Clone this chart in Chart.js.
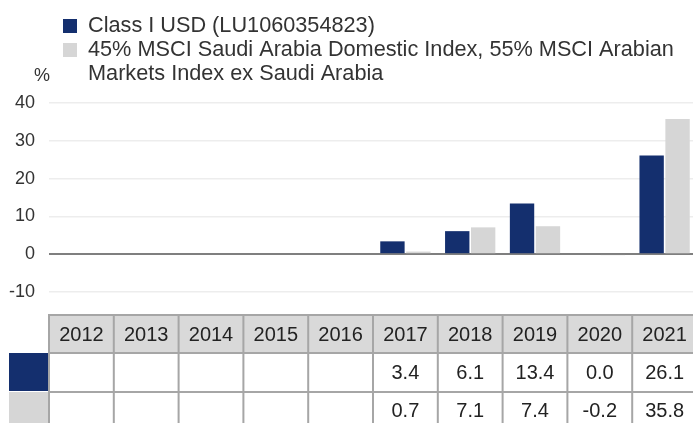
<!DOCTYPE html>
<html>
<head>
<meta charset="utf-8">
<title>Calendar year performance</title>
<script src="https://cdn.jsdelivr.net/npm/chart.js@4.4.0/dist/chart.umd.min.js"></script>
<style>
  html, body { margin: 0; padding: 0; background: #fff; }
  #wrap { width: 693px; height: 423px; overflow: hidden; }
</style>
</head>
<body>
<div id="wrap"><canvas id="perfChart" width="693" height="423"></canvas></div>
<script>
// calendar years and yearly returns (%)
const years = ['2012', '2013', '2014', '2015', '2016', '2017', '2018', '2019', '2020', '2021'];
const fundName = 'Class I USD (LU1060354823)';
const indexName = ['45% MSCI Saudi Arabia Domestic Index, 55% MSCI Arabian', 'Markets Index ex Saudi Arabia'];
const fundValues = [null, null, null, null, null, 3.4, 6.1, 13.4, 0.0, 26.1];
const indexValues = [null, null, null, null, null, 0.7, 7.1, 7.4, -0.2, 35.8];
const yMin = -10;
const yMax = 40;
const yStep = 10;

const fundColor = '#142f6e';
const indexColor = '#d6d6d6';
const fontName = '"Liberation Sans", Arial, sans-serif';

// the last year column runs a little past the right edge of the canvas
const overhang = 4;

const widenX = {
  id: 'widenX',
  afterLayout(chart) {
    const xs = chart.scales.x;
    xs.right = chart.width + overhang;
    xs.width = xs.right - xs.left;
    xs.configure();
    chart.chartArea.right = xs.right;
    chart.chartArea.width = xs.width;
  }
};

// legend, "%" label and the values table under the bars
const extras = {
  id: 'extras',
  afterDraw(chart) {
    const c = chart.ctx;
    const xs = chart.scales.x;
    c.save();

    // legend
    c.font = '21.7px ' + fontName;
    c.textBaseline = 'middle';
    c.textAlign = 'left';
    c.fillStyle = fundColor;
    c.fillRect(63, 19, 14, 14);
    c.fillStyle = indexColor;
    c.fillRect(63, 43, 14, 14);
    c.fillStyle = '#333';
    c.fillText(fundName, 88, 26);
    indexName.forEach((t, i) => c.fillText(t, 88, 50 + i * 24.5));

    // unit
    c.font = '18px ' + fontName;
    c.textAlign = 'center';
    c.fillText('%', 42, 76);

    // table
    const top = 315;
    const rows = [top, top + 38, top + 77, top + 116];
    const colW = (xs.right - xs.left) / years.length;
    const left = xs.left;
    const right = chart.width;

    c.fillStyle = '#d9d9d9';
    c.fillRect(left, rows[0], right - left, rows[1] - rows[0]);
    c.fillStyle = fundColor;
    c.fillRect(9, rows[1], left - 9, rows[2] - rows[1] - 1);
    c.fillStyle = indexColor;
    c.fillRect(9, rows[2], left - 9, rows[3] - rows[2]);

    c.strokeStyle = '#a6a6a6';
    c.lineWidth = 2;
    c.beginPath();
    for (let i = 0; i < 3; i++) {
      c.moveTo(left - 1, rows[i]);
      c.lineTo(right, rows[i]);
    }
    for (let i = 0; i < years.length; i++) {
      const x = left + i * colW;
      c.moveTo(x, rows[0]);
      c.lineTo(x, chart.height);
    }
    c.stroke();

    c.font = '20px ' + fontName;
    c.fillStyle = '#222';
    c.textAlign = 'center';
    c.textBaseline = 'middle';
    const fmt = v => (v === null ? '' : v.toFixed(1));
    years.forEach((y, i) => {
      const cx = left + (i + 0.5) * colW;
      c.fillText(y, cx, (rows[0] + rows[1]) / 2 + 1);
      c.fillText(fmt(fundValues[i]), cx, (rows[1] + rows[2]) / 2 + 1);
      c.fillText(fmt(indexValues[i]), cx, (rows[2] + rows[3]) / 2);
    });

    c.restore();
  }
};

new Chart(document.getElementById('perfChart'), {
  type: 'bar',
  data: {
    labels: years,
    datasets: [
      { label: fundName, data: fundValues, backgroundColor: fundColor },
      { label: indexName.join(' '), data: indexValues, backgroundColor: indexColor }
    ]
  },
  options: {
    responsive: false,
    animation: false,
    devicePixelRatio: 1,
    layout: { padding: { top: 103, bottom: 131, left: 0, right: 0 } },
    categoryPercentage: 0.8,
    barPercentage: 0.94,
    plugins: {
      legend: { display: false },
      tooltip: { enabled: false }
    },
    scales: {
      x: { display: false },
      y: {
        min: yMin,
        max: yMax,
        border: { display: false },
        grid: {
          drawTicks: false,
          color: ctx => (ctx.tick && ctx.tick.value === 0 ? '#7f7f7f' : '#ededed'),
          lineWidth: ctx => (ctx.tick && ctx.tick.value === 0 ? 2 : 1.5)
        },
        ticks: {
          stepSize: yStep,
          padding: 14,
          color: '#333',
          font: { family: fontName, size: 18 }
        },
        afterFit(scale) { scale.width = 49; }
      }
    }
  },
  plugins: [widenX, extras]
});
</script>
</body>
</html>
